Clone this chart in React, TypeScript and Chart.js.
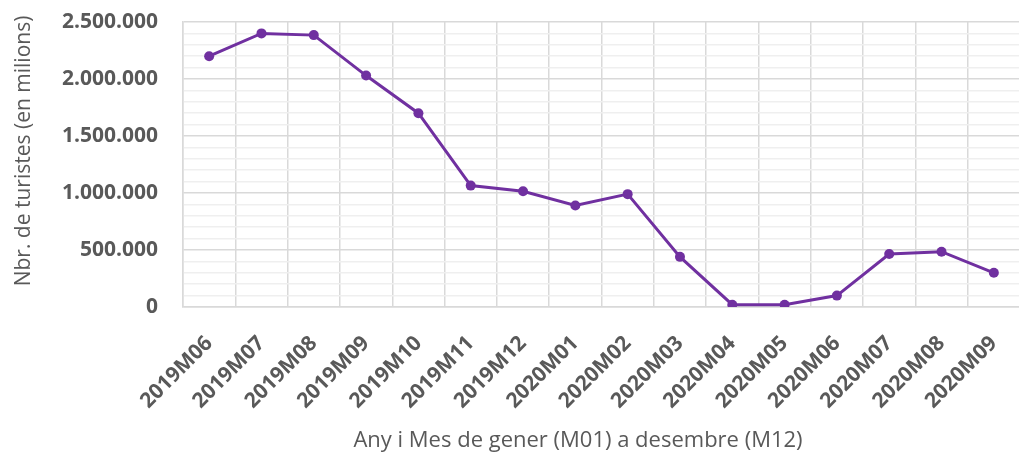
import React, { useEffect, useRef } from "react";
import { Chart, registerables } from "chart.js";

Chart.register(...registerables);

const categories = [
  "2019M06", "2019M07", "2019M08", "2019M09", "2019M10", "2019M11", "2019M12",
  "2020M01", "2020M02", "2020M03", "2020M04", "2020M05", "2020M06", "2020M07",
  "2020M08", "2020M09",
];

const tourists = [
  2200000, 2400000, 2385000, 2030000, 1700000, 1065000, 1015000, 890000,
  990000, 440000, 20000, 20000, 100000, 465000, 485000, 300000,
];

const yMin = 0;
const yMax = 2500000;
const yMinorStep = 100000;
const yMajorStep = 500000;

const yTitle = "Nbr. de turistes (en milions)";
const xTitle = "Any i Mes de gener (M01) a desembre (M12)";

const fmt = (v: number) => String(v).replace(/\B(?=(\d{3})+(?!\d))/g, ".");

const gray = "#595959";

const axisTitles = {
  id: "axisTitles",
  afterDraw(chart: any) {
    const ctx = chart.ctx;
    ctx.save();
    ctx.fillStyle = gray;
    ctx.textAlign = "center";
    ctx.textBaseline = "middle";
    ctx.font = "22px 'Open Sans'";
    ctx.fillText(xTitle, 578, 441);
    ctx.translate(24, 151);
    ctx.rotate(-Math.PI / 2);
    ctx.font = "21px 'Open Sans'";
    ctx.fillText(yTitle, 0, 0);
    ctx.restore();
  },
};

export default function App() {
  const ref = useRef<HTMLCanvasElement | null>(null);

  useEffect(() => {
    if (!ref.current) return;
    const chart = new Chart(ref.current, {
      type: "line",
      data: {
        labels: categories,
        datasets: [
          {
            data: tourists,
            borderColor: "#7030a0",
            backgroundColor: "#7030a0",
            borderWidth: 3,
            pointRadius: 5,
            pointBackgroundColor: "#7030a0",
            pointBorderWidth: 0,
            tension: 0,
          },
        ],
      },
      plugins: [axisTitles],
      options: {
        animation: false,
        responsive: false,
        layout: { padding: { left: 0, right: 0, top: 22, bottom: 0 } },
        plugins: { legend: { display: false }, tooltip: { enabled: false } },
        scales: {
          x: {
            offset: true,
            grid: { offset: true, color: "#d9d9d9", drawTicks: false, lineWidth: 1.5 },
            border: { color: "#d9d9d9", width: 1.5 },
            ticks: {
              minRotation: 45,
              maxRotation: 45,
              autoSkip: false,
              padding: 24,
              color: gray,
              font: { family: "'Open Sans'", size: 21, weight: "bold" },
            },
            afterFit: (s: any) => {
              s.height = 150;
              s.paddingRight = 0;
              s.paddingLeft = 0;
            },
          },
          y: {
            min: yMin,
            max: yMax,
            grid: {
              drawTicks: false,
              lineWidth: 1.5,
              color: (c: any) =>
                c.tick && c.tick.value % yMajorStep === 0 ? "#d9d9d9" : "#efefef",
            },
            border: { color: "#d9d9d9", width: 1.5 },
            ticks: {
              stepSize: yMinorStep,
              autoSkip: false,
              padding: 25,
              color: gray,
              font: { family: "'Open Sans'", size: 21, weight: "bold" },
              callback: (v: any) => (Number(v) % yMajorStep === 0 ? fmt(Number(v)) : ""),
            },
            afterFit: (s: any) => {
              s.width = 183;
              s.paddingTop = 0;
              s.paddingBottom = 0;
            },
          },
        },
      },
    });
    return () => chart.destroy();
  }, []);

  return (
    <div
      style={{
        position: "absolute",
        left: 0,
        top: 0,
        width: 1019,
        height: 457,
        overflow: "hidden",
        background: "#fff",
      }}
    >
      <canvas ref={ref} width={1025} height={457} style={{ display: "block" }} />
    </div>
  );
}
